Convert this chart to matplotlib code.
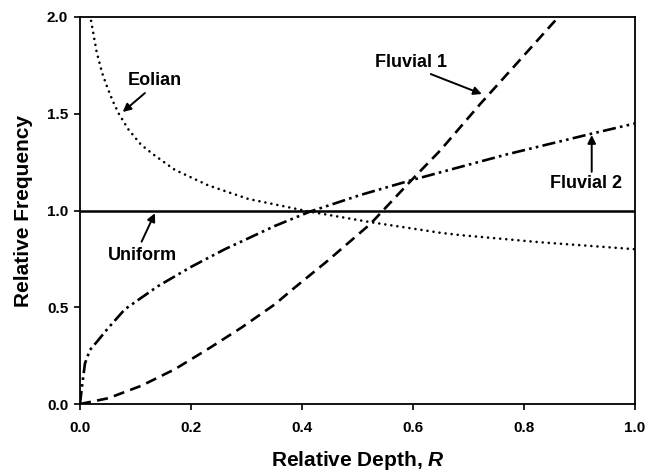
import matplotlib
matplotlib.use("Agg")
import matplotlib.pyplot as plt

plt.rcParams['font.family'] = 'Liberation Sans'
plt.rcParams['font.weight'] = 'bold'
plt.rcParams['mathtext.fontset'] = 'custom'
plt.rcParams['mathtext.it'] = 'Liberation Sans:italic:bold'
plt.rcParams['mathtext.rm'] = 'Liberation Sans:bold'

# relative depth R vs relative frequency for each deposit type
uniform_r = [0.0, 1.0]
uniform_f = [1.0, 1.0]

eolian_r = [0.020, 0.030, 0.040, 0.050, 0.060, 0.070, 0.087, 0.110, 0.132,
            0.171, 0.231, 0.303, 0.414, 0.523, 0.649, 0.685, 0.829, 1.0]
eolian_f = [1.98, 1.82, 1.71, 1.63, 1.56, 1.50, 1.42, 1.34, 1.29,
            1.21, 1.13, 1.06, 0.994, 0.94, 0.885, 0.873, 0.836, 0.80]

fluv1_r = [0.0, 0.051, 0.111, 0.171, 0.231, 0.291, 0.351, 0.384, 0.444,
           0.523, 0.546, 0.595, 0.649, 0.721, 0.787, 0.862]
fluv1_f = [0.0, 0.03, 0.095, 0.18, 0.285, 0.395, 0.515, 0.595, 0.735,
           0.93, 1.0, 1.15, 1.31, 1.55, 1.76, 2.0]

fluv2_r = [0.0, 0.004, 0.009, 0.018, 0.030, 0.050, 0.081, 0.141, 0.201, 0.261,
           0.351, 0.414, 0.505, 0.595, 0.685, 0.769, 0.919, 1.0]
fluv2_f = [0.0, 0.10, 0.21, 0.28, 0.32, 0.39, 0.49, 0.61, 0.71, 0.80,
           0.92, 0.994, 1.08, 1.155, 1.225, 1.29, 1.395, 1.45]

xticks = [0.0, 0.2, 0.4, 0.6, 0.8, 1.0]
yticks = [0.0, 0.5, 1.0, 1.5, 2.0]

fig = plt.figure(figsize=(6.45, 4.72), dpi=100)
ax = fig.add_axes([0.124, 0.144, 0.8605, 0.82])

ax.plot(uniform_r, uniform_f, color='black', lw=1.8, solid_capstyle='butt')
ax.plot(eolian_r, eolian_f, color='black', lw=1.9,
        linestyle=(0, (0.01, 2.3)), dash_capstyle='round')
ax.plot(fluv1_r, fluv1_f, color='black', lw=1.9,
        linestyle=(0, (4.2, 2.4)))
ax.plot(fluv2_r, fluv2_f, color='black', lw=1.9,
        linestyle=(0, (5, 1.6, 1, 1.6, 1, 1.6)))

ax.set_xlim(0, 1)
ax.set_ylim(0, 2)
ax.set_xticks(xticks)
ax.set_yticks(yticks)
ax.set_xticklabels(['%.1f' % v for v in xticks])
ax.set_yticklabels(['%.1f' % v for v in yticks])
ax.tick_params(direction='out', length=4.5, width=1.2, labelsize=11)
ax.tick_params(axis='x', pad=8)
ax.tick_params(axis='y', pad=4)
ax.tick_params(top=False, right=False)
for s in ax.spines.values():
    s.set_linewidth(1.3)

ax.set_xlabel('Relative Depth, $R$', fontsize=15, fontweight='bold', labelpad=10)
ax.set_ylabel('Relative Frequency', fontsize=15, fontweight='bold', labelpad=10)

arrow = dict(arrowstyle='-|>', color='black', lw=1.4, mutation_scale=12,
             shrinkA=0, shrinkB=0)

ax.text(0.135, 1.67, 'Eolian', fontsize=13, fontweight='bold', ha='center', va='center')
ax.annotate('', xy=(0.077, 1.509), xytext=(0.117, 1.607), arrowprops=arrow)

ax.text(0.112, 0.77, 'Uniform', fontsize=13, fontweight='bold', ha='center', va='center')
ax.annotate('', xy=(0.135, 0.986), xytext=(0.111, 0.839), arrowprops=arrow)

ax.text(0.596, 1.767, 'Fluvial 1', fontsize=13, fontweight='bold', ha='center', va='center')
ax.annotate('', xy=(0.724, 1.602), xytext=(0.632, 1.705), arrowprops=arrow)

ax.text(0.912, 1.137, 'Fluvial 2', fontsize=13, fontweight='bold', ha='center', va='center')
ax.annotate('', xy=(0.922, 1.39), xytext=(0.922, 1.20), arrowprops=arrow)

fig.savefig('out.png', dpi=100)
